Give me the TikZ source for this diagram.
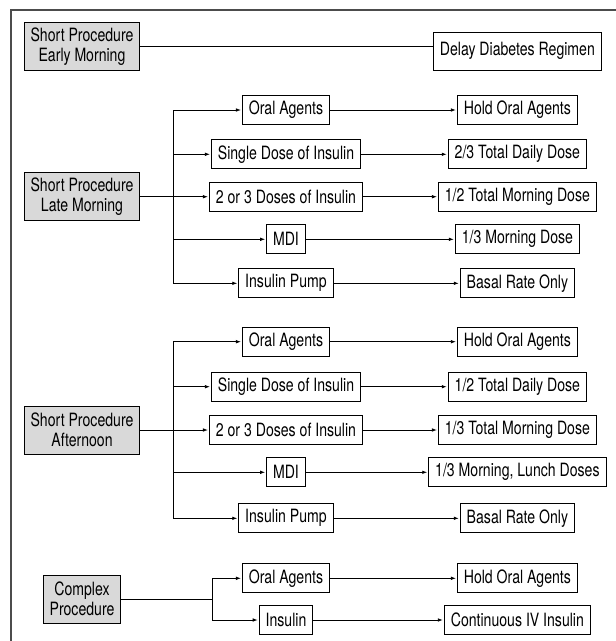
\documentclass[tikz,border=0pt]{standalone}
\usepackage{fontspec}
\setmainfont[FakeStretch=0.77]{TeX Gyre Heros}
\usetikzlibrary{positioning, arrows.meta}

\tikzset{
  box/.style={draw, line width=0.9pt, inner xsep=6.5pt, inner ysep=0pt,
    minimum height=29pt, font=\fontsize{18.3}{20}\selectfont},
  procbox/.style={box, fill=gray!30, align=center, minimum height=48pt},
  arr/.style={-{Latex[length=5pt,width=3.6pt]}, line width=0.8pt, shorten >=1pt},
  link/.style={line width=0.8pt}
}

\begin{document}
\begin{tikzpicture}[x=1pt, y=-1pt, node distance=231.4pt, on grid]
  \useasboundingbox (0,0) rectangle (616,641);
  \draw[line width=1.4pt, black!70] (11,641) |- (616,10);

  % early morning
  \node[procbox] (em) at (82,46.8) {Short Procedure\\Early Morning};
  \node[box, minimum height=38pt] (delay) at (517.4,51.3) {Delay Diabetes Regimen};
  \draw[link] (em.east) -- (em.east -| delay.west);

  % late morning
  \node[procbox] (lm) at (82,196.7) {Short Procedure\\Late Morning};
  \coordinate (lmt) at (173.8,196.7);
  \node[box] (lm1) at (286,110) {Oral Agents};
  \node[box] (lm2) at (286,154.3) {Single Dose of Insulin};
  \node[box] (lm3) at (286,196.7) {2 or 3 Doses of Insulin};
  \node[box] (lm4) at (286,239.3) {MDI};
  \node[box] (lm5) at (286,283.3) {Insulin Pump};
  \node[box] (lr1) [right=of lm1] {Hold Oral Agents};
  \node[box] (lr2) [right=of lm2] {2/3 Total Daily Dose};
  \node[box] (lr3) [right=of lm3] {1/2 Total Morning Dose};
  \node[box] (lr4) [right=of lm4] {1/3 Morning Dose};
  \node[box] (lr5) [right=of lm5] {Basal Rate Only};
  \draw[link] (lm.east) -- (lmt);
  \draw[arr] (lmt) |- (lm1);
  \draw[arr] (lmt) |- (lm2);
  \draw[arr] (lmt) |- (lm3);
  \draw[arr] (lmt) |- (lm4);
  \draw[arr] (lmt) |- (lm5);
  \path[arr]
    (lm1) edge (lr1)
    (lm2) edge (lr2)
    (lm3) edge (lr3)
    (lm4) edge (lr4)
    (lm5) edge (lr5);

  % afternoon
  \node[procbox] (af) at (82,430) {Short Procedure\\Afternoon};
  \coordinate (aft) at (173.8,430);
  \node[box] (af1) at (286,341.7) {Oral Agents};
  \node[box] (af2) at (286,386.7) {Single Dose of Insulin};
  \node[box] (af3) at (286,430) {2 or 3 Doses of Insulin};
  \node[box] (af4) at (286,472.3) {MDI};
  \node[box] (af5) at (286,518.3) {Insulin Pump};
  \node[box] (ar1) [right=of af1] {Hold Oral Agents};
  \node[box] (ar2) [right=of af2] {1/2 Total Daily Dose};
  \node[box] (ar3) [right=of af3] {1/3 Total Morning Dose};
  \node[box] (ar4) [right=of af4] {1/3 Morning, Lunch Doses};
  \node[box] (ar5) [right=of af5] {Basal Rate Only};
  \draw[link] (af.east) -- (aft);
  \draw[arr] (aft) |- (af1);
  \draw[arr] (aft) |- (af2);
  \draw[arr] (aft) |- (af3);
  \draw[arr] (aft) |- (af4);
  \draw[arr] (aft) |- (af5);
  \path[arr]
    (af1) edge (ar1)
    (af2) edge (ar2)
    (af3) edge (ar3)
    (af4) edge (ar4)
    (af5) edge (ar5);

  % complex
  \node[procbox] (cp) at (82,599) {Complex\\Procedure};
  \coordinate (cpt) at (212.5,599);
  \node[box] (cp1) at (286,578.3) {Oral Agents};
  \node[box] (cp2) at (286,620) {Insulin};
  \node[box] (cr1) [right=of cp1] {Hold Oral Agents};
  \node[box] (cr2) [right=of cp2] {Continuous IV Insulin};
  \draw[link] (cp.east) -- (cpt);
  \draw[arr] (cpt) |- (cp1);
  \draw[arr] (cpt) |- (cp2);
  \path[arr]
    (cp1) edge (cr1)
    (cp2) edge (cr2);
\end{tikzpicture}
\end{document}
